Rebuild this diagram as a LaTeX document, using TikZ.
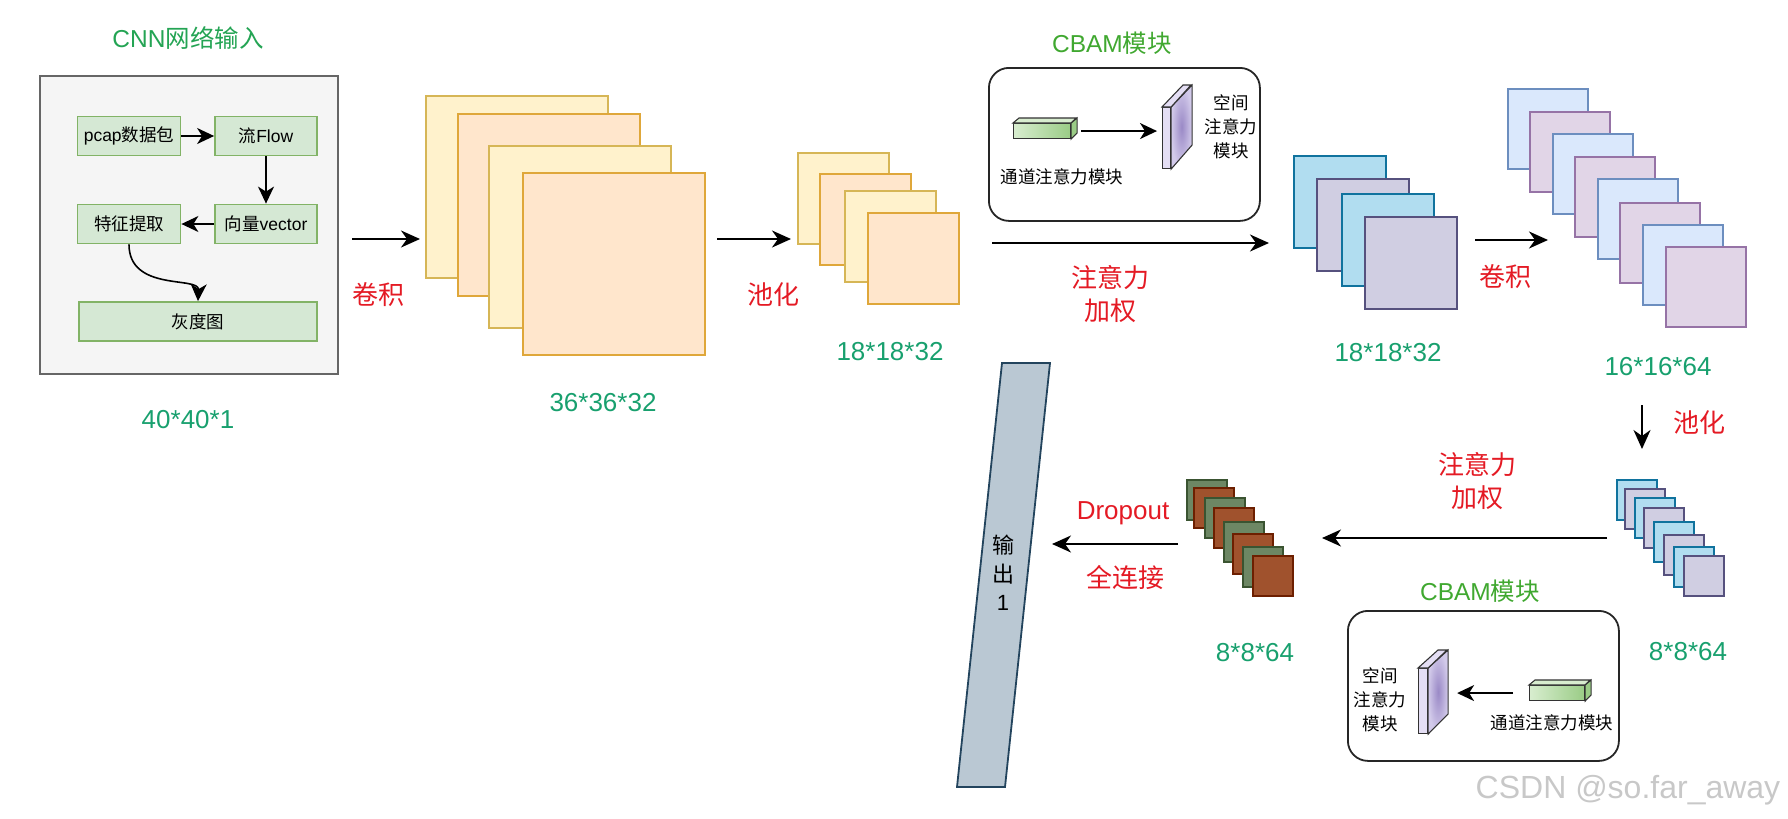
\documentclass[tikz,border=0pt]{standalone}
\usepackage{fontspec}
\setmainfont{Noto Sans CJK SC}
\newfontfamily\lat{Liberation Sans}
\usetikzlibrary{arrows.meta,shapes.geometric}
\definecolor{cream}{HTML}{FFF2CC}
\definecolor{creamd}{HTML}{D6B656}
\definecolor{peach}{HTML}{FFE6CC}
\definecolor{peachd}{HTML}{DFA73A}
\definecolor{sky}{HTML}{B1DDF0}
\definecolor{skyd}{HTML}{10739E}
\definecolor{lav}{HTML}{D0CEE2}
\definecolor{lavd}{HTML}{56517E}
\definecolor{pblue}{HTML}{DAE8FC}
\definecolor{pblued}{HTML}{6C8EBF}
\definecolor{ppurp}{HTML}{E1D5E7}
\definecolor{ppurpd}{HTML}{9673A6}
\definecolor{olive}{HTML}{6D8764}
\definecolor{olived}{HTML}{3A5431}
\definecolor{sienna}{HTML}{A0522D}
\definecolor{siennad}{HTML}{6D1F00}
\definecolor{gfill}{HTML}{D5E8D4}
\definecolor{gdraw}{HTML}{82B366}
\definecolor{boxf}{HTML}{F5F5F5}
\definecolor{boxd}{HTML}{666666}
\definecolor{outf}{HTML}{BAC8D3}
\definecolor{outd}{HTML}{23445D}
\definecolor{labred}{RGB}{228,26,36}
\definecolor{dimg}{RGB}{24,160,110}
\definecolor{ttlg}{RGB}{36,164,84}
\definecolor{cbg}{RGB}{64,168,48}
\definecolor{wm}{RGB}{200,200,200}
\definecolor{slabf}{HTML}{E4DEF4}
\definecolor{slabin}{HTML}{9A89C6}
\definecolor{slabout}{HTML}{D2CAEA}
\definecolor{barl}{HTML}{D8EDCF}
\definecolor{barr}{HTML}{9ACC86}
\tikzset{
  fm/.style={draw, anchor=north west, inner sep=0pt, line width=1.8pt},
  gbox/.style={draw=gdraw, fill=gfill, line width=1.8pt, inner sep=0pt, minimum height=39pt, font=\fontsize{17.5}{20}\selectfont},
  arr/.style={-{Stealth[length=19pt,width=17pt,inset=6pt]}, line width=1.9pt},
  arrthin/.style={-{Stealth[length=17pt,width=16pt,inset=5pt]}, line width=1.6pt},
  redlab/.style={text=labred, inner sep=0pt, align=center, font=\fontsize{26}{33}\selectfont},
  dimlab/.style={text=dimg, inner sep=0pt, font=\lat\fontsize{26}{30}\selectfont},
  ttl/.style={inner sep=0pt, font=\fontsize{24.5}{28}\selectfont},
  cbambox/.style={draw=black!85, line width=1.8pt, rounded corners=20pt, anchor=north west, inner sep=0pt},
  smalltxt/.style={inner sep=0pt, align=center, font=\fontsize{17.5}{24}\selectfont},
  barface/.style={draw=black!80, line width=1.1pt},
  slabline/.style={draw=black!80, line width=1.1pt}
}
\begin{document}
\begin{tikzpicture}[x=1pt,y=-1pt]
\useasboundingbox (0,0) rectangle (1788,819);

% ---------- input block ----------
\node[ttl, text=ttlg] (tin) at (188,38) {{\lat CNN}网络输入};
\node[fm, draw=boxd, fill=boxf, minimum width=298pt, minimum height=298pt] (inbox) at (39,75) {};
\node[gbox, minimum width=103pt] (pcap) at (129,136) {{\lat pcap}数据包};
\node[gbox, minimum width=102pt] (flow) at (266,136) {流{\lat Flow}};
\node[gbox, minimum width=103pt] (feat) at (129,224) {特征提取};
\node[gbox, minimum width=102pt] (vec) at (266,224) {向量{\lat vector}};
\node[gbox, minimum width=238pt] (gray) at (198,321.5) {灰度图};
\draw[arrthin] (pcap) -- (flow);
\draw[arrthin] (flow) -- (vec);
\draw[arrthin] (vec) -- (feat);
\draw[arrthin] (feat.south) .. controls (129,292) and (199,276) .. (gray.north);
\node[dimlab] (d1) at (188,420) {40*40*1};

% ---------- conv 1 ----------
\coordinate (c1a) at (352,239); \coordinate (c1b) at (420,239);
\draw[arr] (c1a) -- (c1b);
\node[redlab] (l1) at (378,295) {卷积};
\foreach \x/\y/\f/\d [count=\i] in {425/95/cream/creamd,457/113/peach/peachd,488/145/cream/creamd,522/172/peach/peachd}
  \node[fm, fill=\f, draw=\d, minimum width=182pt, minimum height=182pt] (sa\i) at (\x,\y) {};
\node[dimlab] (d2) at (603,403) {36*36*32};

% ---------- pool 1 ----------
\coordinate (c2a) at (717,239); \coordinate (c2b) at (791,239);
\draw[arr] (c2a) -- (c2b);
\node[redlab] (l2) at (773,295) {池化};
\foreach \x/\y/\f/\d [count=\i] in {797/152/cream/creamd,819/173/peach/peachd,844/190/cream/creamd,867/212/peach/peachd}
  \node[fm, fill=\f, draw=\d, minimum width=91pt, minimum height=91pt] (sb\i) at (\x,\y) {};
\node[dimlab] (d3) at (890,352) {18*18*32};

% ---------- CBAM 1 ----------
\node[ttl, text=cbg] (tcb1) at (1112,43) {{\lat CBAM}模块};
\node[cbambox, minimum width=271pt, minimum height=153pt] (cb1) at (988,67) {};
\node[barface, anchor=north west, inner sep=0pt, minimum width=57pt, minimum height=15pt, left color=barl, right color=barr] (gb1) at (1013,123) {};
\draw[barface, fill=barl] (gb1.north west) -- ++(6,-5) -- ++(57,0) -- (gb1.north east) -- cycle;
\draw[barface, fill=barr] (gb1.north east) -- ++(6,-5) -- ++(0,15) -- (gb1.south east) -- cycle;
\node[slabline, fill=slabf, anchor=north west, inner sep=0pt, minimum width=8pt, minimum height=61pt] (sl1) at (1162,107) {};
\draw[slabline, shading=radial, inner color=slabin, outer color=slabout] (sl1.north east) -- ++(21,-22) -- ++(0,60) -- (sl1.south east) -- cycle;
\draw[slabline, fill=slabf] (sl1.north west) -- ++(21,-22) -- ++(8,0) -- (sl1.north east) -- cycle;
\draw[arrthin] ([xshift=10pt]gb1.east) -- ([xshift=-5pt]gb1.east -| sl1.west);
\node[smalltxt] (t1a) at (1062,177) {通道注意力模块};
\node[smalltxt] (t1b) at (1231,127) {空间\\注意力\\模块};
\coordinate (c3a) at (992,243); \coordinate (c3b) at (1269,243);
\draw[arr] (c3a) -- (c3b);
\node[redlab] (l3) at (1110,294) {注意力\\加权};

% ---------- attention stack ----------
\foreach \x/\y/\f/\d [count=\i] in {1293/155/sky/skyd,1316/178/lav/lavd,1341/193/sky/skyd,1364/216/lav/lavd}
  \node[fm, fill=\f, draw=\d, minimum width=92pt, minimum height=92pt] (sc\i) at (\x,\y) {};
\node[dimlab] (d4) at (1388,353) {18*18*32};

% ---------- conv 2 ----------
\coordinate (c4a) at (1475,240); \coordinate (c4b) at (1548,240);
\draw[arr] (c4a) -- (c4b);
\node[redlab] (l4) at (1505,277) {卷积};
\foreach \x/\y/\f/\d [count=\i] in {1507/88/pblue/pblued,1529/111/ppurp/ppurpd,1552/133/pblue/pblued,1574/156/ppurp/ppurpd,1597/178/pblue/pblued,1619/202/ppurp/ppurpd,1642/224/pblue/pblued,1665/246/ppurp/ppurpd}
  \node[fm, fill=\f, draw=\d, minimum width=80pt, minimum height=80pt] (sd\i) at (\x,\y) {};
\node[dimlab] (d5) at (1658,367) {16*16*64};

% ---------- pool 2 ----------
\coordinate (c5a) at (1642,405); \coordinate (c5b) at (1642,449);
\draw[arr] (c5a) -- (c5b);
\node[redlab] (l5) at (1699,423) {池化};
\foreach \x/\y/\f/\d [count=\i] in {1616/479/sky/skyd,1624/488/lav/lavd,1634/497/sky/skyd,1643/507/lav/lavd,1653/521/sky/skyd,1663/534/lav/lavd,1673/546/sky/skyd,1683/555/lav/lavd}
  \node[fm, fill=\f, draw=\d, minimum width=40pt, minimum height=40pt] (se\i) at (\x,\y) {};
\node[dimlab] (d6) at (1688,652) {8*8*64};

% ---------- attention 2 ----------
\coordinate (c6a) at (1607,538); \coordinate (c6b) at (1322,538);
\draw[arr] (c6a) -- (c6b);
\node[redlab] (l6) at (1477,481) {注意力\\加权};

% ---------- CBAM 2 ----------
\node[ttl, text=cbg] (tcb2) at (1480,591) {{\lat CBAM}模块};
\node[cbambox, minimum width=271pt, minimum height=150pt] (cb2) at (1347,610) {};
\node[barface, anchor=north west, inner sep=0pt, minimum width=55pt, minimum height=15pt, left color=barl, right color=barr] (gb2) at (1529,685) {};
\draw[barface, fill=barl] (gb2.north west) -- ++(6,-5) -- ++(55,0) -- (gb2.north east) -- cycle;
\draw[barface, fill=barr] (gb2.north east) -- ++(6,-5) -- ++(0,15) -- (gb2.south east) -- cycle;
\node[slabline, fill=slabf, anchor=north west, inner sep=0pt, minimum width=9pt, minimum height=65pt] (sl2) at (1418,668) {};
\draw[slabline, shading=radial, inner color=slabin, outer color=slabout] (sl2.north east) -- ++(20,-18) -- ++(0,64) -- (sl2.south east) -- cycle;
\draw[slabline, fill=slabf] (sl2.north west) -- ++(20,-18) -- ++(9,0) -- (sl2.north east) -- cycle;
\draw[arrthin] ([xshift=-16pt]gb2.west) -- ([xshift=29pt]gb2.west -| sl2.east);
\node[smalltxt] (t2a) at (1552,723) {通道注意力模块};
\node[smalltxt] (t2b) at (1380,700) {空间\\注意力\\模块};

% ---------- fc stack ----------
\foreach \x/\y/\f/\d [count=\i] in {1186/479/olive/olived,1193/487/sienna/siennad,1204/497/olive/olived,1213/507/sienna/siennad,1223/521/olive/olived,1232/533/sienna/siennad,1242/546/olive/olived,1252/555/sienna/siennad}
  \node[fm, fill=\f, draw=\d, minimum width=40pt, minimum height=40pt] (sf\i) at (\x,\y) {};
\node[dimlab] (d7) at (1255,653) {8*8*64};

\coordinate (c7a) at (1178,544); \coordinate (c7b) at (1052,544);
\draw[arr] (c7a) -- (c7b);
\node[redlab, font=\lat\fontsize{26}{30}\selectfont] (l7) at (1123,513) {Dropout};
\node[redlab] (l8) at (1125,577) {全连接};

% ---------- output ----------
\draw[draw=outd, fill=outf, line width=1.8pt] (1002,363) -- (1050,363) -- (1005,787) -- (957,787) -- cycle;
\node[inner sep=0pt, align=center, font=\fontsize{22}{28.5}\selectfont] (outtxt) at (1003,573) {输\\出\\{\lat 1}};

% ---------- watermark ----------
\node[inner sep=0pt, text=wm, font=\lat\fontsize{32}{36}\selectfont] (wmk) at (1628,790) {CSDN @so.far\_away};
\end{tikzpicture}
\end{document}
